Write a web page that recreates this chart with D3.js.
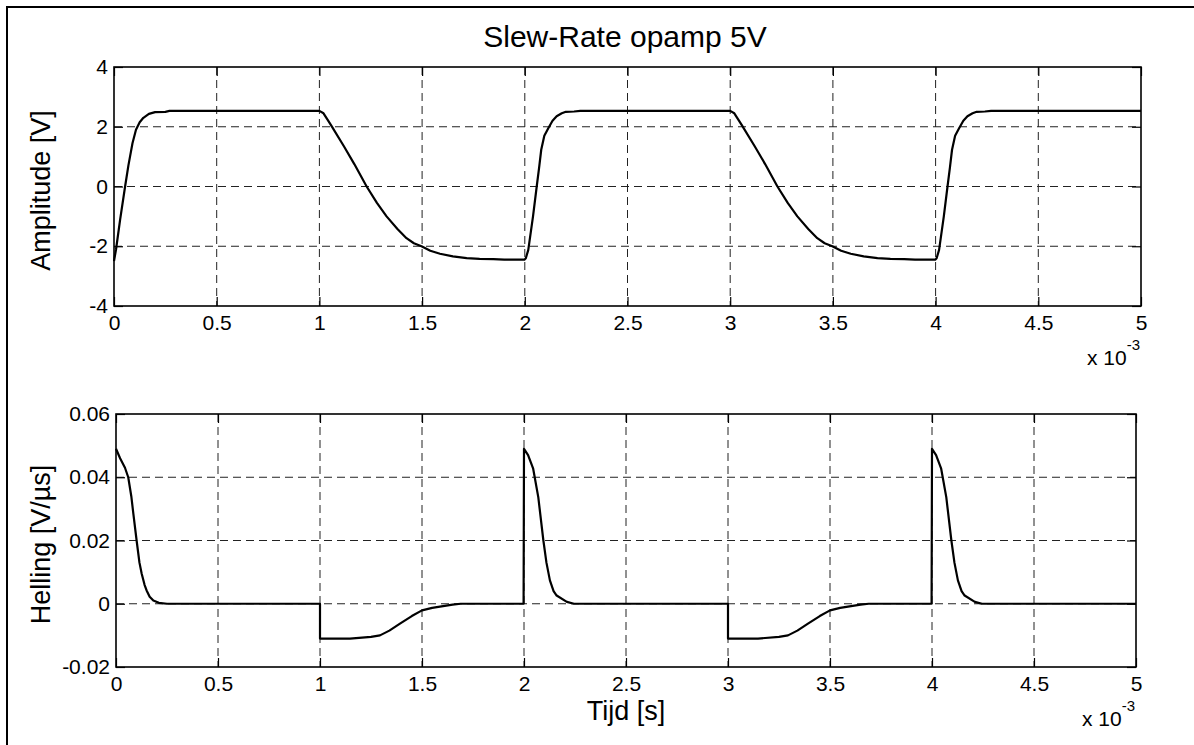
<!DOCTYPE html>
<html>
<head>
<meta charset="utf-8">
<script src="https://cdn.jsdelivr.net/npm/d3@7"></script>
<style>
  body { margin: 0; background: #fff; }
  text { font-family: "Liberation Sans", Arial, sans-serif; fill: #000; }
</style>
</head>
<body>
<svg id="display"></svg>
<script>
/*
 *
 *  Data (time in ms, shown on axis as x 10^-3 s)
 *
 */
var xTicks = [0, 0.5, 1, 1.5, 2, 2.5, 3, 3.5, 4, 4.5, 5];
var ampTicks = [-4, -2, 0, 2, 4];
var slopeTicks = [-0.02, 0, 0.02, 0.04, 0.06];

// output voltage of the opamp [V]
var ampT = [0, 0.01, 0.03, 0.054, 0.07, 0.078, 0.09, 0.107, 0.125, 0.143, 0.17, 0.2, 0.25, 0.27, 0.3,
            1.0, 1.02, 1.055, 1.12, 1.17, 1.23, 1.28, 1.327, 1.38, 1.424, 1.46, 1.497, 1.54, 1.587, 1.65, 1.717, 1.78, 1.847, 1.9, 1.998,
            2.005, 2.017, 2.04, 2.058, 2.07, 2.08, 2.095, 2.115, 2.135, 2.155, 2.18, 2.2, 2.24, 2.27,
            3.0, 3.02, 3.055, 3.12, 3.17, 3.23, 3.28, 3.327, 3.38, 3.424, 3.46, 3.497, 3.54, 3.587, 3.65, 3.717, 3.78, 3.847, 3.9, 3.998,
            4.005, 4.017, 4.04, 4.058, 4.07, 4.08, 4.095, 4.115, 4.135, 4.155, 4.18, 4.2, 4.24, 4.27, 5.0];
var ampV = [-2.5, -2.1, -1.1, 0, 0.7, 1.0, 1.45, 1.9, 2.15, 2.3, 2.43, 2.49, 2.5, 2.53, 2.53,
            2.53, 2.45, 2.07, 1.34, 0.75, 0, -0.55, -1.0, -1.42, -1.73, -1.9, -2.0, -2.15, -2.25, -2.34, -2.4, -2.42, -2.43, -2.45, -2.45,
            -2.4, -2.12, -1.0, 0, 0.65, 1.23, 1.7, 1.96, 2.2, 2.35, 2.45, 2.5, 2.51, 2.53,
            2.53, 2.45, 2.07, 1.34, 0.75, 0, -0.55, -1.0, -1.42, -1.73, -1.9, -2.0, -2.15, -2.25, -2.34, -2.4, -2.42, -2.43, -2.45, -2.45,
            -2.4, -2.12, -1.0, 0, 0.65, 1.23, 1.7, 1.96, 2.2, 2.35, 2.45, 2.5, 2.51, 2.53, 2.53];

// slope of the output [V/us]
var slopeT = [0, 0.02, 0.044, 0.06, 0.075, 0.085, 0.101, 0.115, 0.126, 0.14, 0.15, 0.165, 0.183, 0.21, 0.25,
              1.0, 1.0, 1.147, 1.25, 1.294, 1.34, 1.392, 1.45, 1.5, 1.55, 1.588, 1.65, 1.69, 1.998,
              2.0, 2.02, 2.045, 2.07, 2.095, 2.11, 2.127, 2.145, 2.16, 2.21, 2.245,
              3.0, 3.0, 3.147, 3.25, 3.294, 3.34, 3.392, 3.45, 3.5, 3.55, 3.588, 3.65, 3.69, 3.998,
              4.0, 4.02, 4.045, 4.07, 4.095, 4.11, 4.127, 4.145, 4.16, 4.21, 4.245, 5.0];
var slopeV = [0.049, 0.046, 0.043, 0.040, 0.034, 0.0285, 0.020, 0.013, 0.0095, 0.006, 0.0042, 0.0022, 0.001, 0.0003, 0,
              0, -0.011, -0.011, -0.0105, -0.010, -0.0085, -0.0063, -0.0039, -0.0021, -0.0013, -0.0009, -0.0003, 0, 0,
              0.049, 0.047, 0.0427, 0.0337, 0.020, 0.013, 0.0074, 0.004, 0.0026, 0.0006, 0,
              0, -0.011, -0.011, -0.0105, -0.010, -0.0085, -0.0063, -0.0039, -0.0021, -0.0013, -0.0009, -0.0003, 0, 0,
              0.049, 0.047, 0.0427, 0.0337, 0.020, 0.013, 0.0074, 0.004, 0.0026, 0.0006, 0, 0];

/*
 *
 *  Canvas
 *
 */
var width = 1194,
    height = 745;

var svg = d3.select("#display")
            .attr("width", width)
            .attr("height", height);

// figure border (only top/left fall inside the picture)
svg.append("rect")
   .attr("x", 7).attr("y", 7)
   .attr("width", width).attr("height", height)
   .style("fill", "none")
   .style("stroke", "#000")
   .style("stroke-width", 2);

// draws one MATLAB-style axes box with grid, ticks and curve
function drawPanel(box, yDomain, yTicks, tData, vData, ylabel) {
  var x = d3.scaleLinear().domain([0, 5]).range([box.left, box.right]);
  var y = d3.scaleLinear().domain(yDomain).range([box.bottom, box.top]);
  var g = svg.append("g");
  var plain = function(d) { return String(d); };   // keep ascii hyphen like matlab

  // dashed grid
  g.selectAll(".vgrid").data(xTicks.slice(1, -1)).enter().append("line")
    .attr("x1", function(d) { return x(d); }).attr("x2", function(d) { return x(d); })
    .attr("y1", box.top).attr("y2", box.bottom)
    .style("stroke", "#222").style("stroke-width", 1).style("stroke-dasharray", "8,5");
  g.selectAll(".hgrid").data(yTicks.slice(1, -1)).enter().append("line")
    .attr("y1", function(d) { return y(d); }).attr("y2", function(d) { return y(d); })
    .attr("x1", box.left).attr("x2", box.right)
    .style("stroke", "#222").style("stroke-width", 1).style("stroke-dasharray", "8,5");

  // axes with inward ticks
  var axes = [
    [d3.axisBottom(x).tickValues(xTicks).tickFormat(plain), "translate(0," + box.bottom + ")", 9],
    [d3.axisTop(x).tickValues(xTicks).tickFormat(""), "translate(0," + box.top + ")", 6],
    [d3.axisLeft(y).tickValues(yTicks).tickFormat(plain), "translate(" + box.left + ",0)", 6],
    [d3.axisRight(y).tickValues(yTicks).tickFormat(""), "translate(" + box.right + ",0)", 6]
  ];
  axes.forEach(function(a) {
    var ax = g.append("g")
      .attr("transform", a[1])
      .call(a[0].tickSizeInner(-9).tickSizeOuter(0).tickPadding(a[2]));
    ax.select(".domain").remove();
    ax.selectAll("line").style("stroke", "#000").style("stroke-width", 1.2);
    ax.selectAll("text").style("font-size", "21px").attr("fill", "#000")
      .style("font-family", "'Liberation Sans', Arial, sans-serif");
  });

  // box
  g.append("rect")
    .attr("x", box.left).attr("y", box.top)
    .attr("width", box.right - box.left).attr("height", box.bottom - box.top)
    .style("fill", "none").style("stroke", "#000").style("stroke-width", 1.6);

  // curve
  var line = d3.line()
    .x(function(d) { return x(d[0]); })
    .y(function(d) { return y(d[1]); });
  g.append("path")
    .datum(d3.zip(tData, vData))
    .attr("d", line)
    .style("stroke", "#000").style("stroke-width", 2.2)
    .style("fill", "none").style("stroke-linejoin", "round");

  // y label
  g.append("text")
    .attr("transform", "translate(50," + ((box.top + box.bottom) / 2 + 4) + ") rotate(-90)")
    .style("text-anchor", "middle")
    .style("font-size", "27px")
    .text(ylabel);

  // x 10^-3 multiplier
  var m = g.append("text")
    .attr("x", box.right - 1).attr("y", box.bottom + 59)
    .style("text-anchor", "end")
    .style("font-size", "21px");
  m.append("tspan").text("x 10");
  m.append("tspan").attr("dy", -15).style("font-size", "15px").text("-3");
}

var topBox = {left: 114, right: 1141, top: 67, bottom: 306};
var botBox = {left: 116, right: 1136, top: 414, bottom: 667};

drawPanel(topBox, [-4, 4], ampTicks, ampT, ampV, "Amplitude [V]");
drawPanel(botBox, [-0.02, 0.06], slopeTicks, slopeT, slopeV, "Helling [V/\u00b5s]");

// title and x label
svg.append("text")
   .attr("x", 625).attr("y", 47)
   .style("text-anchor", "middle")
   .style("font-size", "30px")
   .text("Slew-Rate opamp 5V");

svg.append("text")
   .attr("x", 626).attr("y", 720)
   .style("text-anchor", "middle")
   .style("font-size", "27px")
   .text("Tijd [s]");
</script>
</body>
</html>
